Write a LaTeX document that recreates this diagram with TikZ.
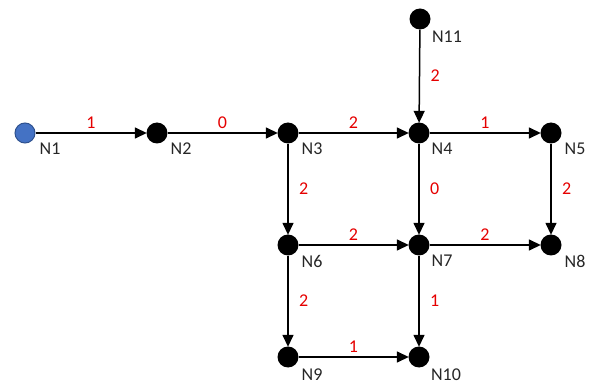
\documentclass[tikz,border=0pt]{standalone}
\usepackage{fontspec}
\setmainfont{Carlito}
\usetikzlibrary{arrows.meta}
\begin{document}
\begin{tikzpicture}[x=1pt,y=-1pt,
  vert/.style={circle,fill=black,inner sep=0pt,minimum size=21pt},
  src/.style={circle,line width=1pt,inner sep=0pt,minimum size=20pt},
  nlab/.style={font=\fontsize{18}{18}\selectfont,text=black!85},
  wlab/.style={font=\fontsize{18}{18}\selectfont,text=red!90!black},
  edge/.style={-{Triangle[length=12pt,width=11pt]},line width=1.5pt,shorten >=-0.5pt}]
\useasboundingbox (0,0) rectangle (590,385);
\node[src,fill={rgb,255:red,68;green,114;blue,196},draw={rgb,255:red,47;green,82;blue,143}] (N1) at (25,133) {};
\node[vert] (N2) at (157,133) {};
\node[vert] (N3) at (288,133) {};
\node[vert] (N4) at (419,133) {};
\node[vert] (N5) at (551,133) {};
\node[vert] (N11) at (420,19) {};
\node[vert] (N6) at (288,245) {};
\node[vert] (N7) at (419,245) {};
\node[vert] (N8) at (551,245) {};
\node[vert] (N9) at (288,357) {};
\node[vert] (N10) at (419,357) {};
\foreach \n/\x/\y in {N1/50/149,N2/181/149,N3/312/149,N4/442/149,N5/575/149,N11/447/37,N6/312/261,N7/442/261,N8/575/261,N9/312/375,N10/446/375}
  \node[nlab] (L\n) at (\x,\y) {\n};
\draw[edge] (N1) -- node[wlab,above=0pt] (w1) {1} (N2);
\draw[edge] (N2) -- node[wlab,above=0pt] (w2) {0} (N3);
\draw[edge] (N3) -- node[wlab,above=0pt] (w3) {2} (N4);
\draw[edge] (N4) -- node[wlab,above=0pt] (w4) {1} (N5);
\draw[edge] (N11) -- node[wlab,right=7pt] (w5) {2} (N4);
\draw[edge] (N3) -- node[wlab,right=7pt] (w6) {2} (N6);
\draw[edge] (N4) -- node[wlab,right=7pt] (w7) {0} (N7);
\draw[edge] (N5) -- node[wlab,right=7pt] (w8) {2} (N8);
\draw[edge] (N6) -- node[wlab,above=0pt] (w9) {2} (N7);
\draw[edge] (N7) -- node[wlab,above=0pt] (w10) {2} (N8);
\draw[edge] (N6) -- node[wlab,right=7pt] (w11) {2} (N9);
\draw[edge] (N7) -- node[wlab,right=7pt] (w12) {1} (N10);
\draw[edge] (N9) -- node[wlab,above=0pt] (w13) {1} (N10);
\end{tikzpicture}
\end{document}
